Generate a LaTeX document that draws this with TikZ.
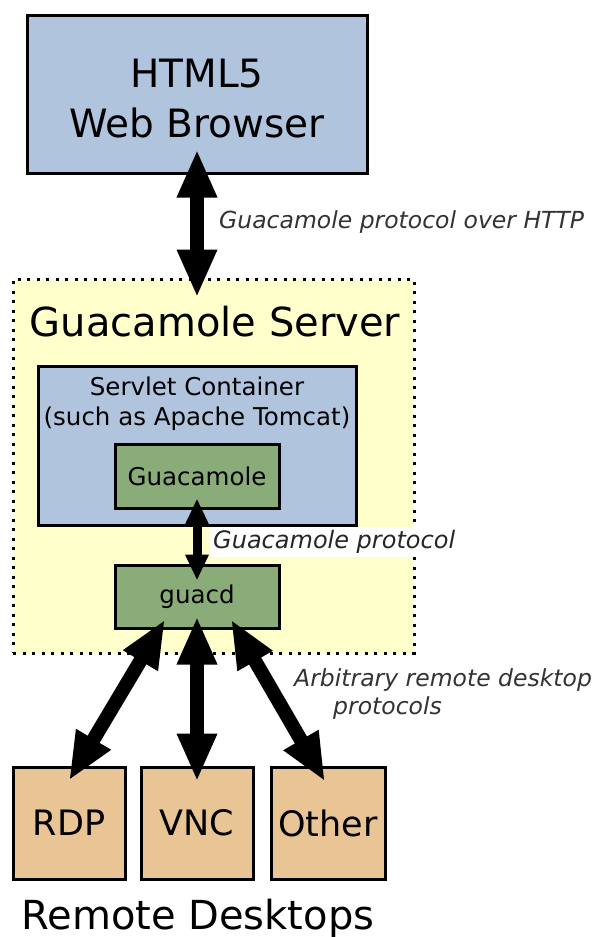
\documentclass[tikz,border=0pt]{standalone}
\usepackage{fontspec}
\setmainfont{DejaVu Sans}
\usetikzlibrary{arrows.meta}
\definecolor{boxblue}{HTML}{B0C4DE}
\definecolor{boxgreen}{HTML}{8AAC78}
\definecolor{boxtan}{HTML}{E9C495}
\definecolor{srvyellow}{HTML}{FFFFCC}
\definecolor{labelgray}{HTML}{333333}
\tikzset{
  box/.style={draw=black, line width=3pt, inner sep=0pt, align=center},
  bigarrow/.style={line width=14pt, arrows={Triangle[width=37pt,length=48pt]-Triangle[width=37pt,length=48pt]}},
  smallarrow/.style={line width=9pt, arrows={Triangle[width=22pt,length=26pt]-Triangle[width=22pt,length=26pt]}},
  lbl/.style={font=\fontsize{23.5}{28}\selectfont\itshape, text=labelgray, inner sep=0pt, anchor=west, align=left}
}
\begin{document}
\begin{tikzpicture}[x=1pt,y=-1pt]
\useasboundingbox[fill=white] (0,0) rectangle (601,937);

% browser
\node[box, fill=boxblue, minimum width=340pt, minimum height=158pt] (browser) at (197,94) {};
\node[font=\fontsize{39}{50}\selectfont, inner sep=0pt, align=center] (browsertext) at (197,99) {HTML5\\Web Browser};

% server area
\node[draw=black, line width=3pt, dash pattern=on 3pt off 6.5pt, fill=srvyellow,
      minimum width=401pt, minimum height=374pt, inner sep=0pt] (server) at (213.5,466) {};
\node[font=\fontsize{40}{46}\selectfont, inner sep=0pt] (srvtitle) at (215,322) {Guacamole Server};

% servlet container
\node[box, fill=boxblue, minimum width=318pt, minimum height=159pt] (servlet) at (197,445.5) {};
\node[font=\fontsize{24.5}{30}\selectfont, inner sep=0pt, align=center] (servlettext) at (197,404)
  {Servlet Container\\(such as Apache Tomcat)};

% guacamole and guacd
\node[box, fill=boxgreen, minimum width=164pt, minimum height=64pt,
      font=\fontsize{24.5}{28}\selectfont] (guac) at (197,476) {Guacamole};
\node[box, fill=boxgreen, minimum width=164pt, minimum height=63pt,
      font=\fontsize{24.5}{28}\selectfont] (guacd) at (197,596.5) {guacd};

% remote desktops
\node[box, fill=boxtan, minimum width=112pt, minimum height=112pt,
      font=\fontsize{35}{40}\selectfont] (rdp) at (69,823) {RDP};
\node[box, fill=boxtan, minimum width=112pt, minimum height=112pt,
      font=\fontsize{35}{40}\selectfont] (vnc) at (197,823) {VNC};
\node[box, fill=boxtan, minimum width=114pt, minimum height=112pt,
      font=\fontsize{35}{40}\selectfont] (other) at (328,823) {Other};
\node[font=\fontsize{40}{46}\selectfont, inner sep=0pt] (remote) at (198,918) {Remote Desktops};

% arrows
\draw[bigarrow, shorten <=-25pt, shorten >=-20pt] (browser.south) -- (browser.south |- server.north);
\draw[smallarrow, shorten <=-11pt, shorten >=-17pt] (guac.south) -- (guacd.north);

\coordinate (g1) at ([xshift=-32pt,yshift=10pt]guacd.south);
\coordinate (g2) at ([yshift=13pt]guacd.south);
\coordinate (g3) at ([xshift=34pt,yshift=10pt]guacd.south);
\draw[bigarrow] (g1) -- ([yshift=-15pt]rdp.north);
\draw[bigarrow] (g2) -- ([yshift=-16pt]vnc.north);
\draw[bigarrow] (g3) -- ([xshift=-3pt,yshift=-16pt]other.north);

% labels
\node[lbl] (lhttp) at (219,222) {Guacamole protocol over HTTP};
\node[lbl, fill=white, inner sep=3pt, font=\fontsize{24}{28}\selectfont\itshape, text=black!85] (lguac) at (210,542) {Guacamole protocol};
\node[lbl] (larb) at (294,694) {Arbitrary remote desktop\\\hspace*{39pt}protocols};
\end{tikzpicture}
\end{document}
